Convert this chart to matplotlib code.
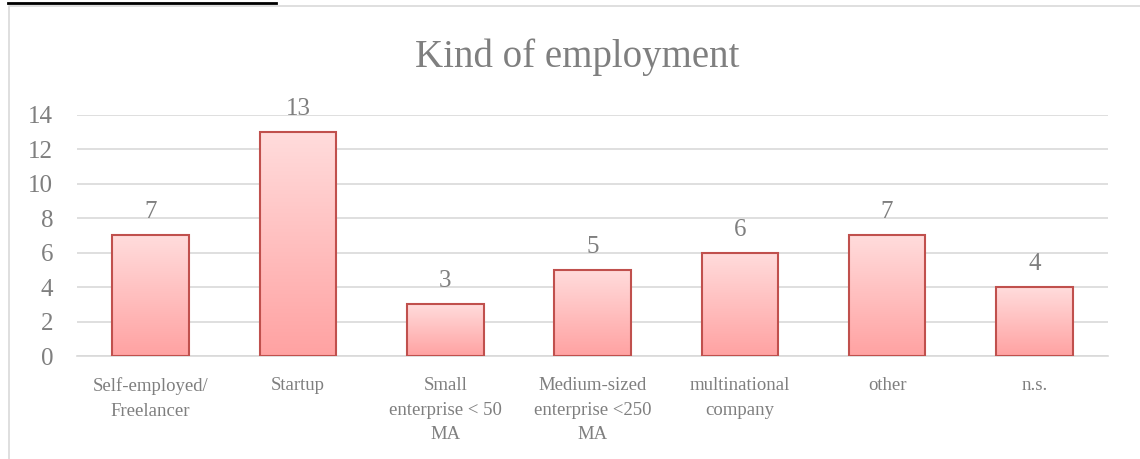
import numpy as np
import matplotlib.pyplot as plt
from matplotlib.colors import LinearSegmentedColormap

categories = ["Self-employed/\nFreelancer", "Startup", "Small\nenterprise < 50\nMA",
              "Medium-sized\nenterprise <250\nMA", "multinational\ncompany", "other", "n.s."]
counts = [7, 13, 3, 5, 6, 7, 4]
yticks = [0, 2, 4, 6, 8, 10, 12, 14]

plt.rcParams['font.family'] = ['Liberation Serif', 'DejaVu Serif']
grey = "#7F7F7F"

fig = plt.figure(figsize=(11.4, 4.59), dpi=100)
ax = fig.add_axes([0.0675, 0.2244, 0.9045, 0.5251])

# chart frame and the document line above it
fig.add_artist(plt.Line2D([9 / 1140, 9 / 1140, 1.0], [0, 1 - 6 / 459, 1 - 6 / 459],
                          color="#D9D9D9", lw=1.2))
fig.add_artist(plt.Line2D([8 / 1140, 276 / 1140], [1 - 3 / 459, 1 - 3 / 459],
                          color="black", lw=2))

x = np.arange(len(counts))
width = 0.52
cmap = LinearSegmentedColormap.from_list("pink", ["#FFA2A2", "#FFDCDC"])
grad = np.linspace(0, 1, 256).reshape(-1, 1)

for xi, v in zip(x, counts):
    ax.imshow(grad, extent=[xi - width / 2, xi + width / 2, 0, v], origin="lower",
              cmap=cmap, aspect="auto", zorder=2)
    ax.bar(xi, v, width=width, facecolor="none", edgecolor="#C0504D", lw=1.5, zorder=3)
    ax.text(xi, v + 0.7, str(v), ha="center", va="bottom", color=grey, fontsize=18)

ax.set_xlim(-0.5, len(counts) - 0.5)
ax.set_ylim(0, 14)
ax.set_yticks(yticks)
ax.set_xticks(x)
ax.set_xticklabels(categories, color=grey, fontsize=13.5, linespacing=1.6)
ax.tick_params(axis="y", colors=grey, labelsize=18, length=0, pad=17)
ax.tick_params(axis="x", length=0, pad=15)
ax.grid(axis="y", color="#D9D9D9", lw=1.2, zorder=0)
ax.set_axisbelow(True)
for s in ["top", "right", "left"]:
    ax.spines[s].set_visible(False)
ax.spines["bottom"].set_color("#D9D9D9")
ax.spines["bottom"].set_linewidth(1.2)

fig.text(577 / 1140, 1 - 57 / 459, "Kind of employment", ha="center", va="center",
         color=grey, fontsize=28)

fig.savefig("out.png", dpi=100)
